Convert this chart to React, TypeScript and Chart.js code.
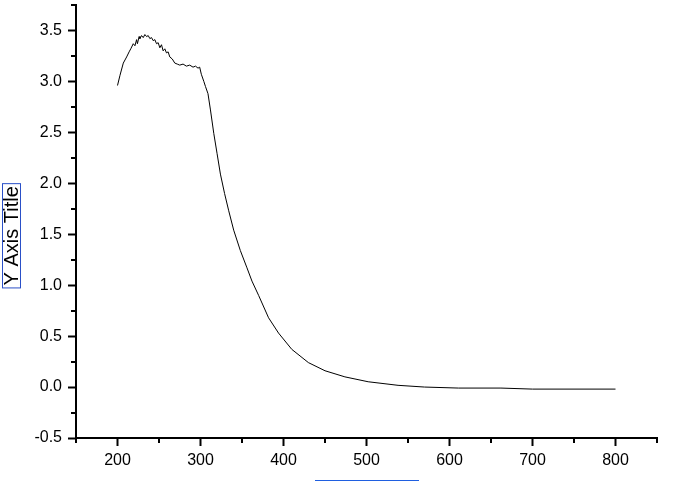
import React, { useEffect, useRef } from 'react';
import { Chart, registerables } from 'chart.js';

Chart.register(...registerables);

// Wavelength (x) and absorbance (y)
const wavelength = [
  200, 203, 207, 211, 214, 216, 219, 221, 223, 224, 226, 227, 229, 231, 233, 235, 237, 239,
  241, 243, 245, 247, 249, 251, 253, 255, 257, 259, 261, 263, 266, 269, 272, 275, 279, 283,
  287, 291, 294, 297, 299, 301, 304, 306, 309, 312, 316, 320, 324, 329, 334, 340, 348, 356,
  362, 370, 382, 394, 410, 430, 450, 474, 502, 538, 570, 611, 662, 700, 750, 800,
];
const absorbance = [
  2.96, 3.06, 3.18, 3.24, 3.29, 3.32, 3.37, 3.35, 3.41, 3.37, 3.44, 3.42, 3.45, 3.43, 3.46, 3.44, 3.45, 3.42,
  3.43, 3.40, 3.41, 3.37, 3.38, 3.33, 3.36, 3.30, 3.32, 3.28, 3.29, 3.24, 3.22, 3.18, 3.17, 3.16, 3.17, 3.15,
  3.16, 3.14, 3.15, 3.13, 3.14, 3.07, 3.00, 2.95, 2.88, 2.72, 2.49, 2.29, 2.09, 1.90, 1.73, 1.54, 1.34, 1.17,
  1.04, 0.90, 0.68, 0.53, 0.37, 0.24, 0.16, 0.10, 0.052, 0.017, 0.0, -0.01, -0.01, -0.02, -0.02, -0.02,
];

const xMin = 150;
const xMax = 850;
const xTickValues = [200, 300, 400, 500, 600, 700, 800];
const xMinor = 50;
const yMin = -0.5;
const yMax = 3.75;
const yTickValues = [-0.5, 0.0, 0.5, 1.0, 1.5, 2.0, 2.5, 3.0, 3.5];
const yMinor = 0.25;
const yTitle = 'Y Axis Title';

const FONT = "'Liberation Sans', Arial, sans-serif";

const decor = {
  id: 'decor',
  afterDraw(chart: any) {
    const { ctx, chartArea, scales } = chart;
    const xs = scales.x;
    const ys = scales.y;
    ctx.save();
    ctx.strokeStyle = '#000';
    ctx.lineWidth = 2;
    // minor ticks on x
    const nx = Math.round((xMax - xMin) / xMinor);
    for (let i = 0; i <= nx; i++) {
      const v = xMin + i * xMinor;
      if (xTickValues.includes(v)) continue;
      const px = Math.round(xs.getPixelForValue(v));
      ctx.beginPath();
      ctx.moveTo(px, chartArea.bottom);
      ctx.lineTo(px, chartArea.bottom + 5);
      ctx.stroke();
    }
    // minor ticks on y
    const ny = Math.round((yMax - yMin) / yMinor);
    for (let i = 0; i <= ny; i++) {
      const v = yMin + i * yMinor;
      if (yTickValues.some((t) => Math.abs(t - v) < 1e-6)) continue;
      const py = Math.round(ys.getPixelForValue(v));
      ctx.beginPath();
      ctx.moveTo(chartArea.left, py);
      ctx.lineTo(chartArea.left - 5, py);
      ctx.stroke();
    }
    // y axis title with selection box
    const cy = chartArea.top + (chartArea.bottom - chartArea.top) * 0.533;
    ctx.translate(11, cy);
    ctx.rotate(-Math.PI / 2);
    ctx.font = `20px ${FONT}`;
    ctx.fillStyle = '#000';
    ctx.textAlign = 'center';
    ctx.textBaseline = 'middle';
    ctx.fillText(yTitle, 0, 1);
    const w = ctx.measureText(yTitle).width;
    ctx.strokeStyle = '#2a50c8';
    ctx.lineWidth = 1;
    ctx.strokeRect(-w / 2 - 2.5, -8.5, w + 5, 18);
    ctx.restore();
    // empty x axis title placeholder underline
    ctx.save();
    const cx = Math.round((chartArea.left + chartArea.right) / 2);
    ctx.fillStyle = '#1f5fe0';
    ctx.fillRect(cx - 52, chart.height - 1, 104, 1);
    ctx.restore();
  },
};

export default function App() {
  const ref = useRef<HTMLCanvasElement>(null);

  useEffect(() => {
    document.body.style.margin = '0';
    const points = wavelength.map((x, i) => ({ x, y: absorbance[i] }));
    const chart = new Chart(ref.current!, {
      type: 'line',
      data: {
        datasets: [
          {
            data: points,
            borderColor: '#000',
            borderWidth: 1,
            pointRadius: 0,
            tension: 0,
            fill: false,
          },
        ],
      },
      options: {
        animation: false,
        responsive: true,
        maintainAspectRatio: false,
        layout: { padding: { top: 5, right: 39, left: 0, bottom: 0 } },
        plugins: { legend: { display: false }, tooltip: { enabled: false } },
        scales: {
          x: {
            type: 'linear',
            min: xMin,
            max: xMax,
            ticks: {
              autoSkip: false,
              maxRotation: 0,
              color: '#000',
              padding: 5,
              font: { family: FONT, size: 16 },
              callback: (v: any) => String(v),
            },
            afterBuildTicks: (scale: any) => {
              scale.ticks = xTickValues.map((value) => ({ value }));
            },
            afterFit: (scale: any) => {
              scale.height = 43;
              scale.paddingLeft = 0;
              scale.paddingRight = 0;
            },
            grid: {
              drawOnChartArea: false,
              drawTicks: true,
              tickLength: 8,
              tickWidth: 2,
              tickColor: '#000',
            },
            border: { display: true, color: '#000', width: 2 },
          },
          y: {
            type: 'linear',
            min: yMin,
            max: yMax,
            ticks: {
              autoSkip: false,
              color: '#000',
              padding: 6,
              font: { family: FONT, size: 16 },
              callback: (v: any) => Number(v).toFixed(1),
            },
            afterBuildTicks: (scale: any) => {
              scale.ticks = yTickValues.map((value) => ({ value }));
            },
            afterFit: (scale: any) => {
              scale.width = 76;
              scale.paddingTop = 0;
              scale.paddingBottom = 0;
            },
            grid: {
              drawOnChartArea: false,
              drawTicks: true,
              tickLength: 8,
              tickWidth: 2,
              tickColor: '#000',
            },
            border: { display: true, color: '#000', width: 2 },
          },
        },
      },
      plugins: [decor],
    });
    return () => chart.destroy();
  }, []);

  return (
    <div style={{ position: 'fixed', left: 0, top: 0, width: 696, height: 481, background: '#fff' }}>
      <canvas ref={ref} />
    </div>
  );
}
